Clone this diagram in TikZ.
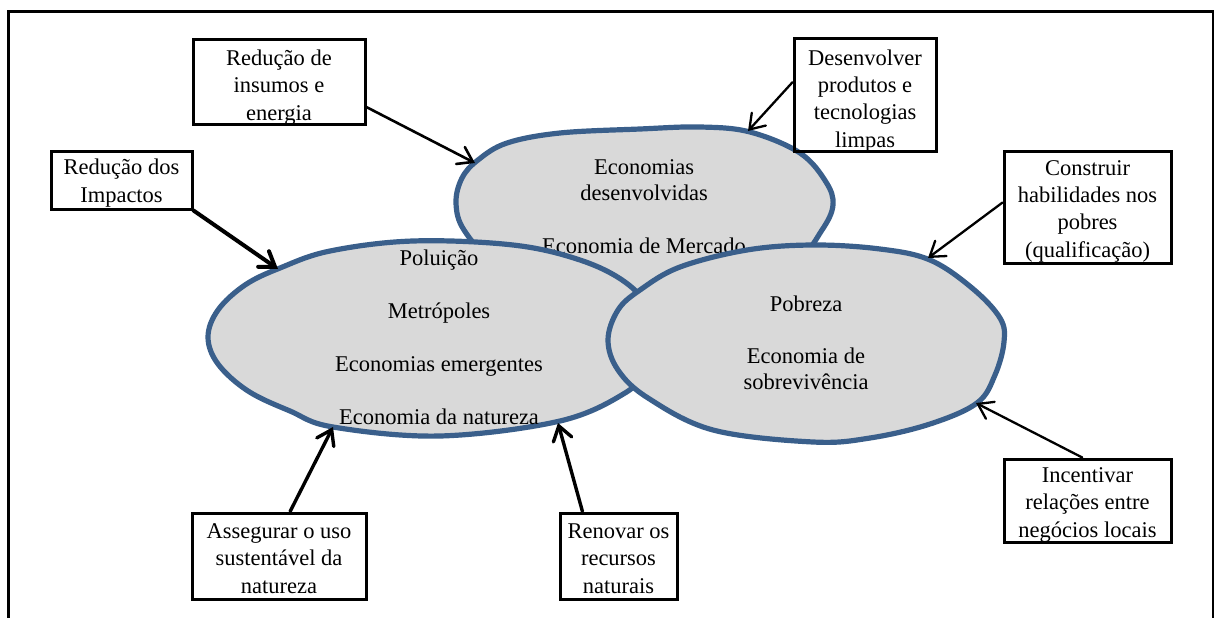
\documentclass[tikz,border=0pt]{standalone}
\usepackage{fontspec}
\setmainfont{Liberation Serif}
\usetikzlibrary{arrows.meta}
\definecolor{blobline}{HTML}{3A5F8B}
\definecolor{blobfill}{HTML}{D9D9D9}
\begin{document}
\begin{tikzpicture}[x=1pt,y=-1pt,
  blob/.style={fill=blobfill, draw=blobline, line width=5.2pt, line join=round},
  box/.style={draw=black, line width=3pt, inner sep=0pt},
  % texts are placed by the baseline of their last line
  boxtext/.style={align=center, inner sep=0pt, anchor=base,
    font=\fontsize{22.5}{27.3}\selectfont},
  blobtext/.style={align=center, inner sep=0pt, anchor=base,
    font=\fontsize{22.5}{25.5}\selectfont},
  arr/.style={draw=black, line cap=round,
    -{Straight Barb[length=14pt,width=19pt,line cap=round]}},
]
\useasboundingbox (0,0) rectangle (1216,618);

% outer frame, open at the bottom
\draw[line width=2.5pt] (8.5,618) -- (8.5,11.5) -- (1213,11.5) -- (1213,618);

% developed economies
\path[blob] plot[smooth cycle, tension=0.6] coordinates {
  (456,203) (462,178) (478,160) (507,143) (560,133) (640,129) (700,127)
  (750,132) (800,153) (826,182) (833,205) (822,230) (795,262) (730,292)
  (640,302) (560,290) (495,262) (464,230)};
\node[blobtext] (tdev) at (644,253)
  {Economias\\desenvolvidas\\[27.5pt]Economia de Mercado};

% emerging economies
\path[blob] plot[smooth cycle, tension=0.6] coordinates {
  (208,337) (218,310) (245,285) (280,268) (330,251) (413,241) (513,245)
  (580,260) (625,282) (650,310) (655,340) (645,370) (625,393) (560,421)
  (440,436) (333,427) (290,411) (248,391) (218,364)};
\node[blobtext] (temg) at (439,424)
  {Poluição\\[27.5pt]Metrópoles\\[27.5pt]Economias emergentes\\[27.5pt]Economia da natureza};

% survival economy
\path[blob] plot[smooth cycle, tension=0.6] coordinates {
  (608,340) (618,310) (640,290) (680,267) (747,250) (813,245) (880,249)
  (930,260) (972,288) (1000,318) (1004,342) (995,375) (977,403) (930,424)
  (870,438) (813,442) (713,430) (648,398) (618,370)};
\node[blobtext] (tsur) at (806,389)
  {Pobreza\\[26.5pt]Economia de\\sobrevivência};

% arrow targets on the blob borders
\coordinate (pdevA) at (475,163);
\coordinate (pdevB) at (748,131);
\coordinate (pemgA) at (278,269);
\coordinate (pemgB) at (333,427);
\coordinate (pemgC) at (558,423);
\coordinate (psurA) at (928,258);
\coordinate (psurB) at (976,403);

% label boxes
\node[box, minimum width=172pt, minimum height=84pt]  (b1) at (279,82) {};
\node[box, minimum width=141pt, minimum height=58pt]  (b2) at (121.5,180) {};
\node[box, minimum width=142pt, minimum height=112pt] (b3) at (865,95) {};
\node[box, minimum width=167pt, minimum height=112pt] (b4) at (1087.5,207) {};
\node[box, minimum width=167pt, minimum height=83pt]  (b5) at (1087.5,500.5) {};
\node[box, minimum width=174pt, minimum height=86pt]  (b6) at (279,556) {};
\node[box, minimum width=117pt, minimum height=86pt]  (b7) at (618.5,556) {};

\node[boxtext] (t1) at (279,120)    {Redução de\\insumos e\\energia};
\node[boxtext] (t2) at (121.5,202)  {Redução dos\\Impactos};
\node[boxtext] (t3) at (865,147)    {Desenvolver\\produtos e\\tecnologias\\limpas};
\node[boxtext] (t4) at (1087.5,257) {Construir\\habilidades nos\\pobres\\(qualificação)};
\node[boxtext] (t5) at (1087.5,537) {Incentivar\\relações entre\\negócios locais};
\node[boxtext] (t6) at (279,593)    {Assegurar o uso\\sustentável da\\natureza};
\node[boxtext] (t7) at (618.5,593)  {Renovar os\\recursos\\naturais};

% connectors
\draw[arr, line width=2.6pt] (b1.-16)         -- (pdevA);
\draw[arr, line width=4pt]   (b2.south east)  -- (pemgA);
\draw[arr, line width=2.3pt] (b3.170)         -- (pdevB);
\draw[arr, line width=2.3pt] (b4.177)         -- (psurA);
\draw[arr, line width=2.3pt] (b5.97)          -- (psurB);
\draw[arr, line width=3.4pt] (b6.76)          -- (pemgB);
\draw[arr, line width=3.4pt] (b7.129)         -- (pemgC);
\end{tikzpicture}
\end{document}
